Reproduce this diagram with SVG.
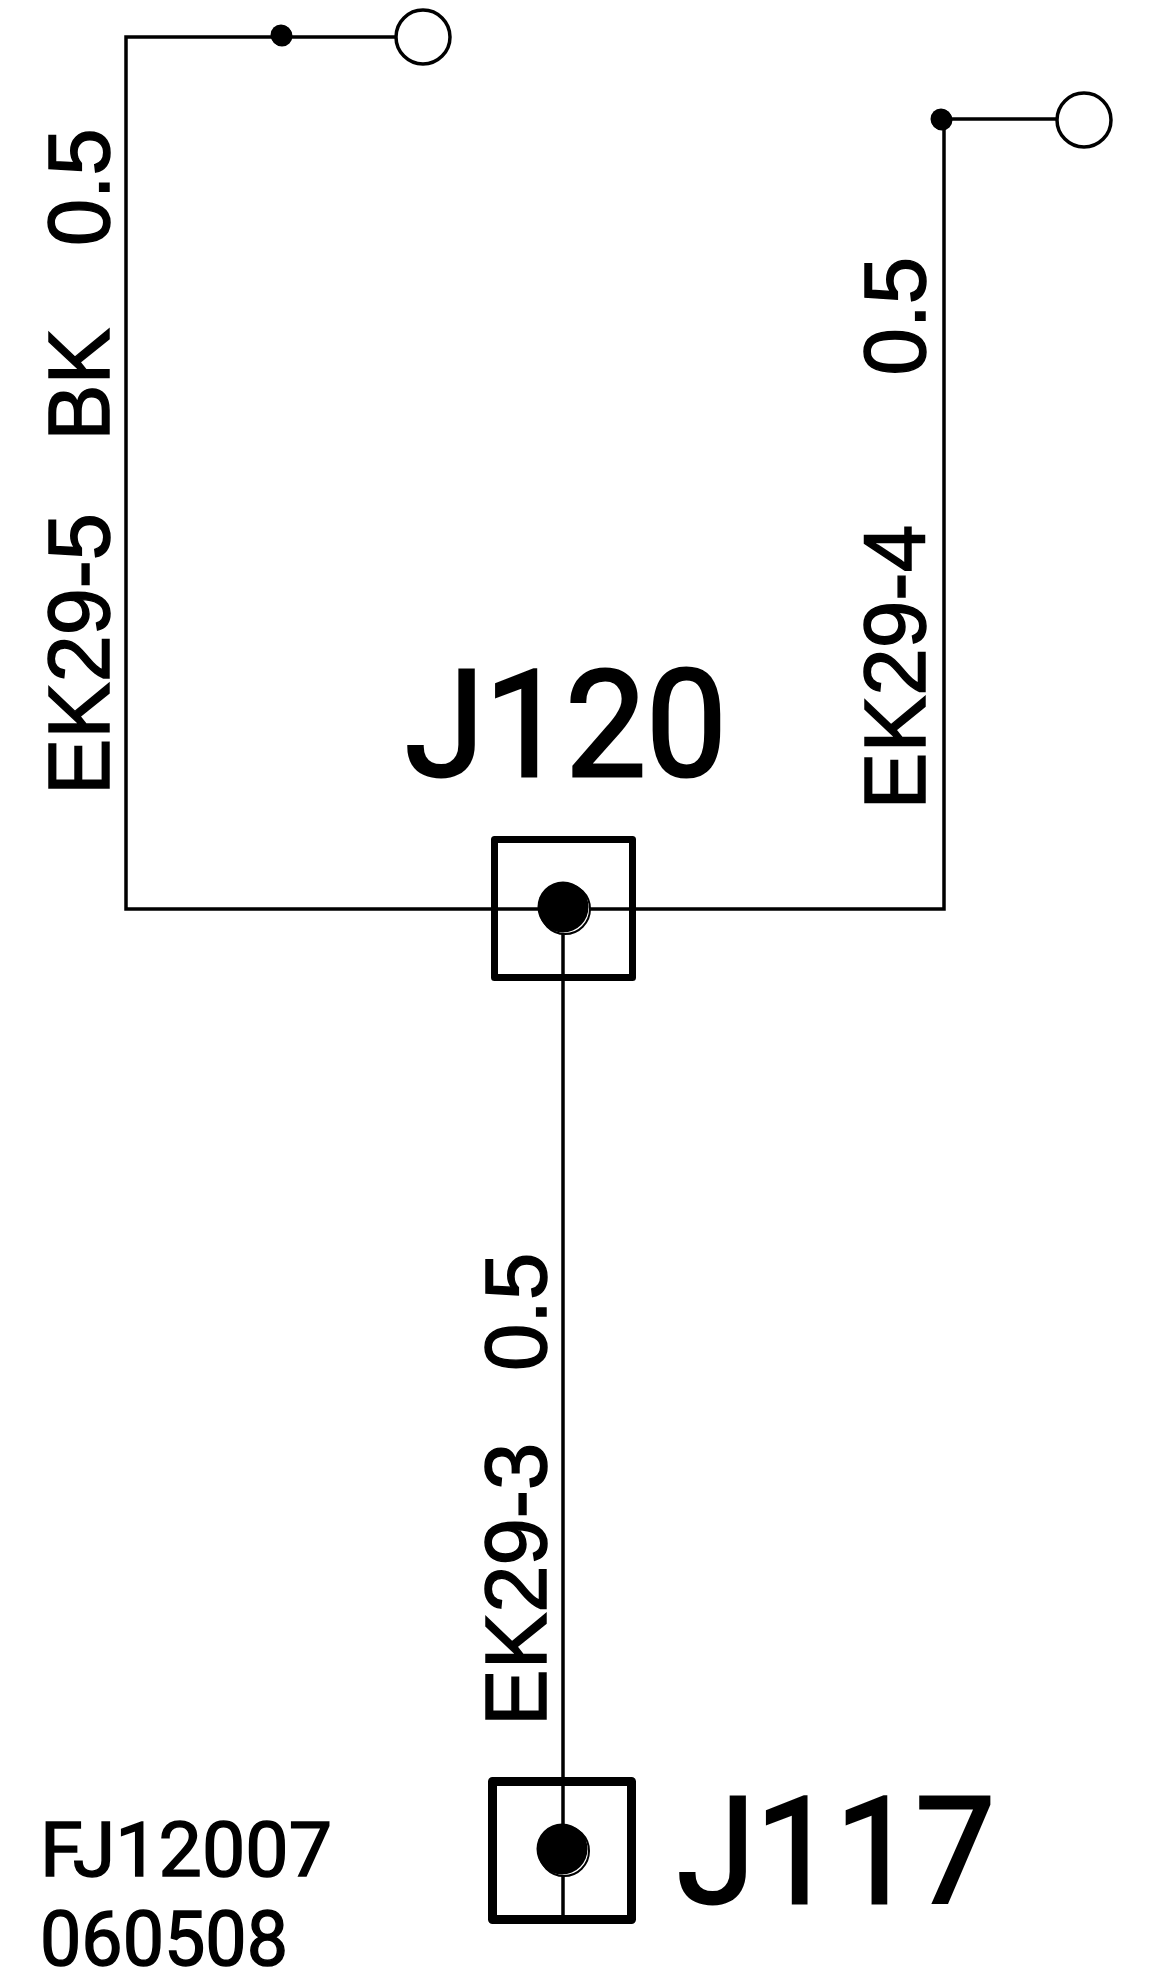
<svg xmlns="http://www.w3.org/2000/svg" width="1152" height="1988" viewBox="0 0 1152 1988">
<style>
text{font-family:"Liberation Sans",Arial,sans-serif;fill:#000;stroke:#000}
.w{fill:none;stroke:#000;stroke-width:3.5}
.box{fill:none;stroke:#000;stroke-linejoin:round}
.open{fill:#fff;stroke:#000;stroke-width:3.5}
.ring{fill:#fff;stroke:#000;stroke-width:2}
.lbl{font-size:88px;stroke-width:1.5}
.big{font-family:Roboto,"Liberation Sans",sans-serif;font-size:148px;stroke-width:3}
.note{font-family:Roboto,"Liberation Sans",sans-serif;font-size:76px;stroke-width:1.5}
</style>
<rect width="1152" height="1988" fill="#fff"/>
<g id="connectors">
<path class="w" d="M423 37H126V909H944V119H1084"/>
<path class="w" d="M563 908V1923"/>
</g>
<g id="term-a"><circle class="ring" cx="282" cy="36" r="9.5"/><circle cx="281" cy="35" r="10.5"/><circle class="open" cx="423" cy="37" r="27"/></g>
<g id="term-b"><circle class="ring" cx="942" cy="120" r="9.5"/><circle cx="941" cy="119" r="10.5"/><circle class="open" cx="1084" cy="120" r="27"/></g>
<g id="J120">
<rect class="box" x="494.5" y="839.5" width="138" height="138" stroke-width="7"/>
<circle class="ring" cx="565" cy="909" r="25"/><circle cx="563" cy="907" r="25.5"/>
<text class="big" x="405" y="776" textLength="322" lengthAdjust="spacingAndGlyphs">J120</text>
</g>
<g id="J117">
<rect class="box" x="492.5" y="1781.5" width="139" height="138" stroke-width="9"/>
<circle class="ring" cx="564" cy="1851" r="25"/><circle cx="562" cy="1849" r="25.5"/>
<text class="big" x="677" y="1903" textLength="318" lengthAdjust="spacingAndGlyphs">J117</text>
</g>
<g id="labels">
<text class="lbl" transform="translate(109,795) rotate(-90) scale(.96,1)">EK29-5<tspan x="369">BK</tspan><tspan x="572">0.5</tspan></text>
<text class="lbl" transform="translate(925,809.5) rotate(-90) scale(.97,1)">EK29-4<tspan x="447.5">0.5</tspan></text>
<text class="lbl" transform="translate(546,1726) rotate(-90) scale(.965,1)">EK29-3<tspan x="368">0.5</tspan></text>
</g>
<g id="note">
<text class="note" x="40" y="1876" textLength="292" lengthAdjust="spacingAndGlyphs">FJ12007</text>
<text class="note" x="40" y="1965" textLength="248" lengthAdjust="spacingAndGlyphs">060508</text>
</g>
</svg>
